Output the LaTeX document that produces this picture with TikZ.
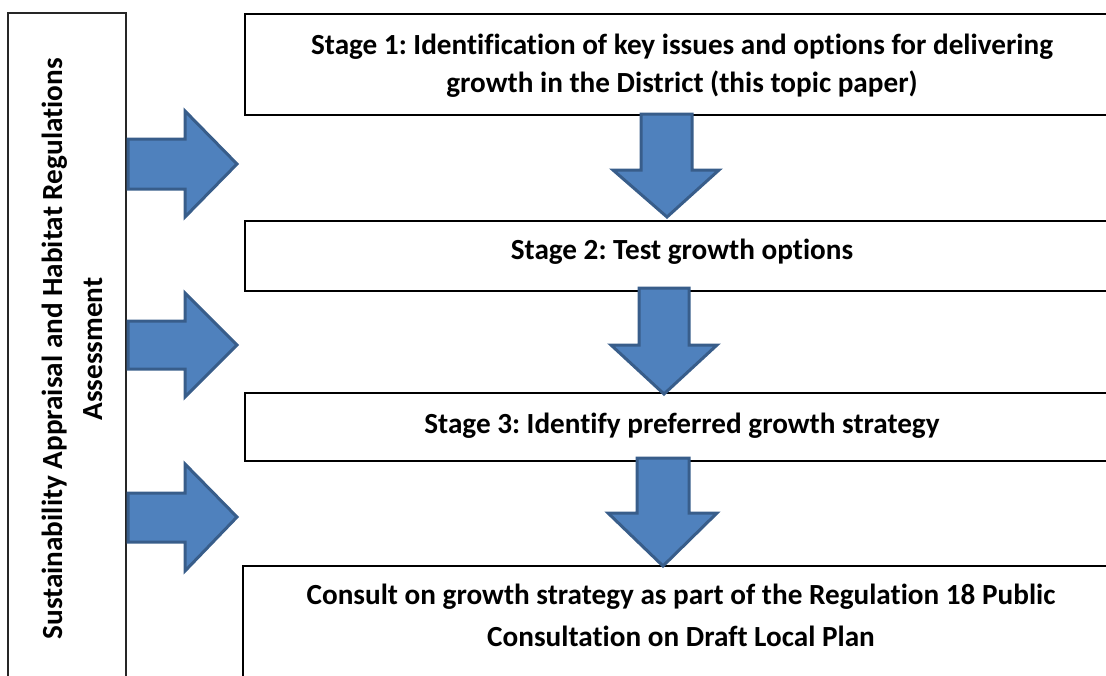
\documentclass[tikz,border=0pt]{standalone}
\usepackage{fontspec}
\setmainfont{Carlito}[Ligatures={NoCommon,NoRare,NoContextual}]
\frenchspacing
\definecolor{arrowfill}{HTML}{4F81BD}
\definecolor{arrowline}{HTML}{385D8A}
\begin{document}
\begin{tikzpicture}[x=1pt,y=-1pt,
  stagebox/.style={draw=black, line width=2pt, fill=white},
  sidebox/.style={draw=black!85, line width=1.6pt, fill=white},
  lbl/.style={font=\fontsize{29.2}{38}\selectfont\bfseries, align=center, inner sep=0pt},
  lblside/.style={lbl, font=\fontsize{29.2}{40}\selectfont\bfseries},
  lblwide/.style={lbl, font=\fontsize{29.2}{42}\selectfont\bfseries},
  blockarrow/.style={fill=arrowfill, draw=arrowline, line width=3pt, line join=miter}]
\useasboundingbox (0,0) rectangle (1106,675);
\begin{scope}
\clip (0,0) rectangle (1106,675);
% side panel and stage boxes (they run past the page edge)
\draw[sidebox] (8,13) coordinate (sideNW) rectangle (126,700) coordinate (sideSE);
\draw[stagebox] (245,14) coordinate (s1NW) rectangle (1120,115) coordinate (s1SE);
\draw[stagebox] (245,221) coordinate (s2NW) rectangle (1120,291) coordinate (s2SE);
\draw[stagebox] (245,393) coordinate (s3NW) rectangle (1120,461) coordinate (s3SE);
\draw[stagebox] (243,566) coordinate (s4NW) rectangle (1120,700) coordinate (s4SE);
\end{scope}

% texts
\node[lblside, rotate=90] (side) at (72,349) {Sustainability Appraisal and Habitat Regulations\\Assessment};
\node[lbl] (t1) at (682,66) {Stage 1: Identification of key issues and options for delivering\\growth in the District (this topic paper)};
\node[lbl] (t2) at (682,252) {Stage 2: Test growth options};
\node[lbl] (t3) at (682,426) {Stage 3: Identify preferred growth strategy};
\node[lblwide] (t4) at (681,615) {Consult on growth strategy as part of the Regulation 18 Public\\Consultation on Draft Local Plan};

% block arrows from the side panel
\draw[blockarrow] (128,139) -- (185,139) -- (185,111) -- (237,164) -- (185,217) -- (185,189) -- (128,189) -- cycle;
\draw[blockarrow] (128,321) -- (185,321) -- (185,293) -- (237,345) -- (185,397) -- (185,369) -- (128,369) -- cycle;
\draw[blockarrow] (128,493) -- (185,493) -- (185,464) -- (237,517) -- (185,571) -- (185,542) -- (128,542) -- cycle;

% block arrows between stages
\draw[blockarrow] (641,114) -- (692,114) -- (692,170) -- (719,170) -- (667,217) -- (613,170) -- (641,170) -- cycle;
\draw[blockarrow] (639,288) -- (689,288) -- (689,345) -- (717,345) -- (664,394) -- (611,345) -- (639,345) -- cycle;
\draw[blockarrow] (637,458) -- (689,458) -- (689,513) -- (717,513) -- (663,566) -- (608,513) -- (637,513) -- cycle;
\end{tikzpicture}
\end{document}
